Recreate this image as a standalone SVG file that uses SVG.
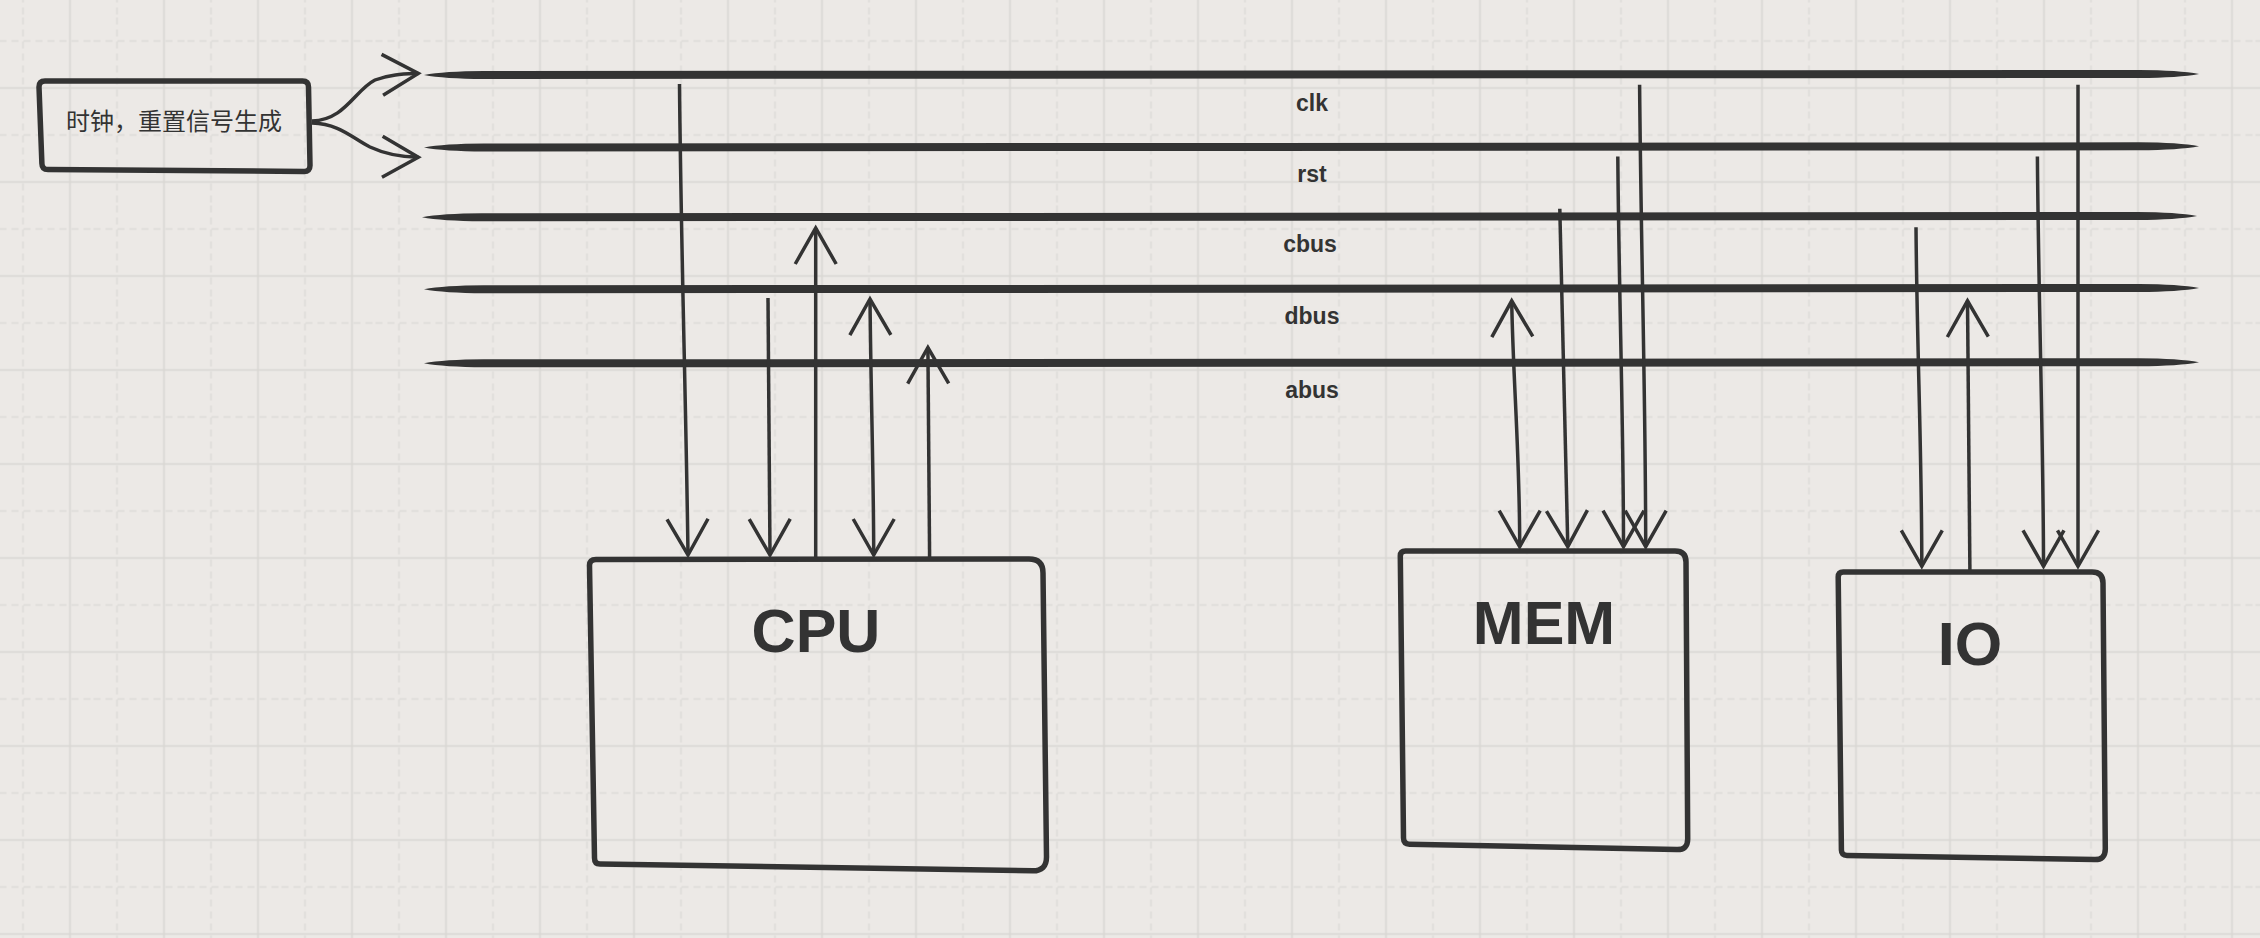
<svg xmlns="http://www.w3.org/2000/svg" width="2260" height="938" viewBox="0 0 2260 938">
<style>
.box{fill:none;stroke:#333;stroke-width:5.5;stroke-linejoin:round}
.edge{fill:none;stroke:#333;stroke-width:3.5;stroke-linecap:butt}
.bus{fill:#333}
.lbl{font-family:"Liberation Sans",Arial,sans-serif;font-weight:bold;font-size:23px;fill:#333;text-anchor:middle}
.title{font-family:"Liberation Sans",Arial,sans-serif;font-weight:bold;font-size:61px;fill:#333;text-anchor:middle}
.cn{font-family:"Liberation Sans","Noto Sans CJK SC",sans-serif;font-size:24px;fill:#333;text-anchor:middle}
</style>
<defs>
<pattern id="gridp" patternUnits="userSpaceOnUse" x="-0.5" y="17.5" width="94" height="94">
<path d="M23.5,0 V94 M0,23.5 H94" stroke="#dcdad7" stroke-width="1.5" fill="none" stroke-dasharray="7 5"/>
<path d="M70.5,0 V94 M0,70.5 H94" stroke="#d8d6d3" stroke-width="1.6" fill="none"/>
</pattern>
<marker id="ah" markerUnits="userSpaceOnUse" viewBox="-40 -24 44 48" refX="0" refY="0" markerWidth="44" markerHeight="48" orient="auto-start-reverse" overflow="visible">
<path d="M-36,-20.5 L0,0 L-36,20.5" fill="none" stroke="#333" stroke-width="3.5"/>
</marker>
</defs>
<rect width="2260" height="938" fill="#ece9e6"/>
<rect width="2260" height="938" fill="url(#gridp)"/>

<g id="bus-clk">
<path class="bus" d="M424,75 Q444,71.2 484,71 L2139,70 Q2179,70.2 2199,74 Q2179,77.8 2139,78 L484,79 Q444,78.8 424,75 Z"/>
<text class="lbl" x="1312" y="110.5">clk</text>
</g>
<g id="bus-rst">
<path class="bus" d="M424,147.5 Q444,143.7 484,143.5 L2139,142.3 Q2179,142.5 2199,146.3 Q2179,150.1 2139,150.3 L484,151.5 Q444,151.3 424,147.5 Z"/>
<text class="lbl" x="1312" y="182">rst</text>
</g>
<g id="bus-cbus">
<path class="bus" d="M422,217.3 Q442,213.5 482,213.3 L2137,212 Q2177,212.2 2197,216 Q2177,219.8 2137,220 L482,221.3 Q442,221.1 422,217.3 Z"/>
<text class="lbl" x="1310" y="252">cbus</text>
</g>
<g id="bus-dbus">
<path class="bus" d="M424,289.3 Q444,285.5 484,285.3 L2139,284 Q2179,284.2 2199,288 Q2179,291.8 2139,292 L484,293.3 Q444,293.1 424,289.3 Z"/>
<text class="lbl" x="1312" y="324">dbus</text>
</g>
<g id="bus-abus">
<path class="bus" d="M424,363.3 Q444,359.5 484,359.3 L2139,358.3 Q2179,358.5 2199,362.3 Q2179,366.1 2139,366.3 L484,367.3 Q444,367.1 424,363.3 Z"/>
<text class="lbl" x="1312" y="398">abus</text>
</g>

<g id="clockgen">
<path class="box" d="M45,81 L302.5,81 Q308.5,81 308.5,87 L310,165.5 Q310,171.5 304,171.4 L48,169.6 Q42,169.5 41.9,163.5 L39,87 Q39,81 45,81 Z"/>
<text class="cn" x="174" y="130">时钟，重置信号生成</text>
</g>

<g id="cpu">
<path class="box" d="M596,559.5 L1029,559 Q1043,559 1043,573 L1046.5,857 Q1046.5,871 1032.5,870.8 L600,864 Q594.5,864 594.5,858 L589.5,565.5 Q589.5,559.5 596,559.5 Z"/>
<text class="title" x="816" y="652">CPU</text>
</g>

<g id="mem">
<path class="box" d="M1405.5,551 L1675,551 Q1686,551 1686,562 L1687.7,839 Q1687.7,850 1676.7,849.6 L1409.5,844.2 Q1403.6,844 1403.5,838 L1400.3,556 Q1400.3,551 1405.5,551 Z"/>
<text class="title" x="1544" y="644">MEM</text>
</g>

<g id="io">
<path class="box" d="M1843.2,571.9 L2092,571.9 Q2103,571.9 2103,583 L2105.3,849 Q2105.3,860 2094.3,859.6 L1847,855.5 Q1841.5,855.3 1841.4,850 L1838.2,577 Q1838.2,571.9 1843.2,571.9 Z"/>
<text class="title" x="1970" y="664.5">IO</text>
</g>

<g id="connectors">
<path class="edge" marker-end="url(#ah)" d="M312,121 C345,120 355,90 375,80 C390,74 405,74 418.3,73.5"/>
<path class="edge" marker-end="url(#ah)" d="M312,123 C340,124 352,138 370,147 C385,154 400,157 418.3,157.3"/>

<path class="edge" marker-end="url(#ah)" d="M679.5,84 C681,250 686,400 688,555"/>
<path class="edge" marker-end="url(#ah)" d="M768,298 L770,555"/>
<path class="edge" marker-end="url(#ah)" d="M815.7,558 L815.7,228"/>
<path class="edge" marker-start="url(#ah)" marker-end="url(#ah)" d="M870,299 C871,400 873.7,480 873.7,555"/>
<path class="edge" marker-end="url(#ah)" d="M929.6,557 L927.9,347.5"/>

<path class="edge" marker-start="url(#ah)" marker-end="url(#ah)" d="M1511.7,300.8 C1513,380 1519.7,450 1519.7,546.6"/>
<path class="edge" marker-end="url(#ah)" d="M1559.8,208.8 L1567.8,546.6"/>
<path class="edge" marker-end="url(#ah)" d="M1617.8,156.6 C1619,300 1623.5,420 1623.5,546.6"/>
<path class="edge" marker-end="url(#ah)" d="M1639.6,84.8 C1641,250 1645.7,400 1645.7,546.6"/>

<path class="edge" marker-end="url(#ah)" d="M1916,227.3 C1917,350 1921.8,450 1921.8,566.3"/>
<path class="edge" marker-end="url(#ah)" d="M1969.9,570 L1967.5,300.8"/>
<path class="edge" marker-end="url(#ah)" d="M2037.4,156.6 C2038.5,300 2043.5,450 2043.5,566.3"/>
<path class="edge" marker-end="url(#ah)" d="M2078,84.8 L2078,566.3"/>
</g>
</svg>
